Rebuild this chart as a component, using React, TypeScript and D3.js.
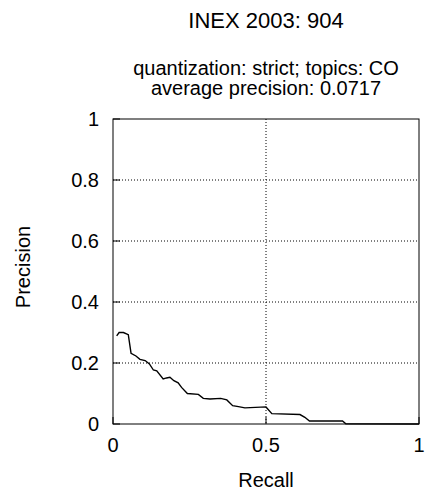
import React, { useEffect, useRef } from 'react';
import * as d3 from 'd3';

const recall = [0.012, 0.02, 0.034, 0.05, 0.059, 0.075, 0.088, 0.105, 0.119, 0.132, 0.143, 0.164, 0.175, 0.186, 0.199, 0.213, 0.224, 0.243, 0.279, 0.295, 0.317, 0.352, 0.372, 0.391, 0.41, 0.431, 0.5, 0.519, 0.611, 0.627, 0.642, 0.75, 0.761, 1.0];
const precision = [0.289, 0.3, 0.3, 0.293, 0.232, 0.223, 0.212, 0.208, 0.197, 0.177, 0.174, 0.148, 0.151, 0.153, 0.142, 0.135, 0.12, 0.1, 0.097, 0.084, 0.082, 0.084, 0.079, 0.06, 0.057, 0.053, 0.056, 0.034, 0.031, 0.022, 0.01, 0.01, 0.001, 0];
const xTicks = [0, 0.5, 1];
const yTicks = [0, 0.2, 0.4, 0.6, 0.8, 1];

export default function App() {
  const ref = useRef<SVGSVGElement>(null);

  useEffect(() => {
    const svg = d3.select(ref.current);
    svg.selectAll('*').remove();
    const left = 113, right = 419, top = 119, bottom = 424;
    const x = d3.scaleLinear().domain([0, 1]).range([left, right]);
    const y = d3.scaleLinear().domain([0, 1]).range([bottom, top]);
    const font = 'Liberation Sans, Arial, sans-serif';

    // grid
    svg.selectAll('.gy').data(yTicks.filter(t => t > 0 && t < 1)).enter().append('line')
      .attr('x1', left).attr('x2', right).attr('y1', d => y(d)).attr('y2', d => y(d))
      .attr('stroke', '#000').attr('stroke-width', 1).attr('stroke-dasharray', '1,2');
    svg.selectAll('.gx').data(xTicks.filter(t => t > 0 && t < 1)).enter().append('line')
      .attr('y1', top).attr('y2', bottom).attr('x1', d => x(d)).attr('x2', d => x(d))
      .attr('stroke', '#000').attr('stroke-width', 1).attr('stroke-dasharray', '1,2');

    // ticks
    svg.selectAll('.ty').data(yTicks).enter().append('line')
      .attr('x1', left).attr('x2', left + 7).attr('y1', d => y(d)).attr('y2', d => y(d))
      .attr('stroke', '#000');
    svg.selectAll('.tx').data(xTicks).enter().append('line')
      .attr('y1', bottom).attr('y2', bottom - 7).attr('x1', d => x(d)).attr('x2', d => x(d))
      .attr('stroke', '#000');

    svg.append('rect').attr('x', left).attr('y', top)
      .attr('width', right - left).attr('height', bottom - top)
      .attr('fill', 'none').attr('stroke', '#000').attr('stroke-width', 1);

    svg.selectAll('.ly').data(yTicks).enter().append('text')
      .attr('x', left - 14).attr('y', d => y(d) + 7).attr('text-anchor', 'end')
      .attr('font-family', font).attr('font-size', 20).text(d => d3.format('~g')(d));
    svg.selectAll('.lx').data(xTicks).enter().append('text')
      .attr('x', d => x(d)).attr('y', bottom + 28).attr('text-anchor', 'middle')
      .attr('font-family', font).attr('font-size', 20).text(d => d3.format('~g')(d));

    const line = d3.line<number>().x((d, i) => x(recall[i])).y(d => y(d));
    svg.append('path').datum(precision).attr('d', line)
      .attr('fill', 'none').attr('stroke', '#000').attr('stroke-width', 1.4);

    svg.append('text').attr('x', 266).attr('y', 28).attr('text-anchor', 'middle')
      .attr('font-family', font).attr('font-size', 22).text('INEX 2003: 904');
    svg.append('text').attr('x', 266).attr('y', 75).attr('text-anchor', 'middle')
      .attr('font-family', font).attr('font-size', 20).text('quantization: strict; topics: CO');
    svg.append('text').attr('x', 266).attr('y', 95).attr('text-anchor', 'middle')
      .attr('font-family', font).attr('font-size', 20).text('average precision: 0.0717');
    svg.append('text').attr('x', 266).attr('y', 487).attr('text-anchor', 'middle')
      .attr('font-family', font).attr('font-size', 20).text('Recall');
    svg.append('text').attr('transform', 'translate(30,267) rotate(-90)').attr('text-anchor', 'middle')
      .attr('font-family', font).attr('font-size', 20).text('Precision');
  }, []);

  return <svg ref={ref} width={430} height={496} style={{ position: 'absolute', left: 0, top: 0 }} />;
}
